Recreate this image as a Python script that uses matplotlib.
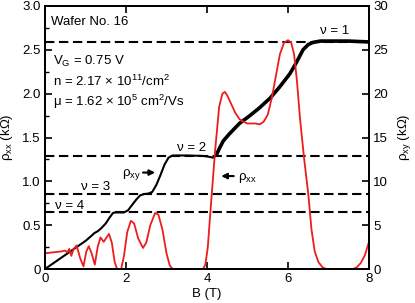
import matplotlib
matplotlib.use("Agg")
import matplotlib.pyplot as plt
import numpy as np

plt.rcParams['font.family'] = ['Liberation Sans', 'DejaVu Sans']
plt.rcParams['mathtext.fontset'] = 'custom'
plt.rcParams['mathtext.rm'] = 'Liberation Sans'
plt.rcParams['mathtext.it'] = 'Liberation Sans:italic'
plt.rcParams['mathtext.default'] = 'regular'
plt.rcParams['font.size'] = 9.5

# rho_xx (kOhm, left axis) vs B (T)
B_xx = [0.0, 0.2, 0.4, 0.5, 0.55, 0.6, 0.65, 0.7, 0.78, 0.87, 0.95, 1.02, 1.08, 1.15,
        1.23, 1.3, 1.37, 1.45, 1.52, 1.58, 1.65, 1.72, 1.78, 1.88, 1.95, 2.03, 2.12,
        2.2, 2.3, 2.42, 2.5, 2.6, 2.72, 2.8, 2.9, 3.0, 3.08, 3.15, 3.9, 3.96, 4.02,
        4.1, 4.2, 4.3, 4.38, 4.44, 4.5, 4.6, 4.7, 4.8, 4.9, 5.0, 5.2, 5.3, 5.4, 5.5,
        5.6, 5.7, 5.8, 5.9, 6.0, 6.08, 6.15, 6.22, 6.3, 6.4, 6.5, 6.58, 6.66, 6.75,
        6.85, 6.95, 7.6, 7.7, 7.8, 7.9, 8.0]
rho_xx = [0.18, 0.19, 0.20, 0.21, 0.19, 0.23, 0.15, 0.22, 0.27, 0.12, 0.03, 0.20, 0.26,
          0.18, 0.05, 0.25, 0.36, 0.31, 0.36, 0.40, 0.30, 0.08, 0.0, 0.0, 0.15, 0.42,
          0.55, 0.52, 0.35, 0.24, 0.30, 0.50, 0.64, 0.62, 0.45, 0.18, 0.04, 0.0, 0.0,
          0.05, 0.25, 0.75, 1.35, 1.85, 2.0, 2.02, 1.98, 1.88, 1.78, 1.71, 1.68, 1.66,
          1.66, 1.65, 1.68, 1.76, 1.95, 2.2, 2.45, 2.58, 2.61, 2.58, 2.45, 2.15, 1.7,
          1.25, 0.86, 0.45, 0.2, 0.08, 0.02, 0.0, 0.0, 0.02, 0.07, 0.16, 0.31]

# rho_xy (kOhm, right axis) vs B (T)
B_xy = [0.0, 0.5, 1.0, 1.15, 1.22, 1.3, 1.4, 1.5, 1.6, 1.68, 1.75, 1.95, 2.05, 2.15,
        2.25, 2.35, 2.45, 2.55, 2.65, 2.75, 2.85, 2.95, 3.05, 3.15, 3.5, 3.9, 4.05,
        4.15, 4.22, 4.3, 4.4, 4.55, 4.8, 5.06, 5.3, 5.56, 5.8, 6.05, 6.2, 6.37, 6.5,
        6.62, 6.8, 7.5, 8.0]
rho_xy = [0.0, 1.6, 3.2, 3.8, 4.1, 4.3, 4.7, 5.2, 5.9, 6.4, 6.45, 6.45, 6.7, 7.3,
          7.9, 8.4, 8.55, 8.6, 8.8, 9.6, 10.7, 11.9, 12.7, 12.95, 12.95, 12.9, 12.8,
          12.7, 12.9, 13.7, 14.6, 15.4, 16.6, 17.5, 18.4, 19.5, 20.8, 22.3, 23.5,
          25.0, 25.6, 25.85, 26.0, 26.0, 25.9]

# quantized plateau levels (kOhm, right axis)
nu_labels = ['ν = 1', 'ν = 2', 'ν = 3', 'ν = 4']
nu_levels = [25.9, 12.9, 8.6, 6.45]

W, H = 415, 303
fig = plt.figure(figsize=(W / 100, H / 100), dpi=100)
ax = fig.add_axes([45 / W, 1 - 269 / H, 324 / W, 263 / H])
ax2 = ax.twinx()

ax.set_xlim(0, 8)
ax.set_ylim(0, 3.0)
ax2.set_ylim(0, 30)

for lv in nu_levels:
    ax2.axhline(lv, color='black', lw=1.5, ls=(0, (4.5, 2.2)), zorder=1)

Bxy = np.array(B_xy)
rxy = np.array(rho_xy)
ax2.plot(Bxy, rxy, color='black', lw=1.5, zorder=3)
m = Bxy >= 4.2
ax2.plot(Bxy[m], rxy[m], color='black', lw=2.6, zorder=3, solid_capstyle='butt')
ax.plot(B_xx, rho_xx, color='#ee1c1c', lw=1.3, zorder=2)
ax.set_zorder(ax2.get_zorder() + 1)
ax.patch.set_visible(False)

ax.set_xticks([0, 2, 4, 6, 8])
ax.set_xticklabels(['0', '2', '4', '6', '8'])
ax.set_yticks([0, 0.5, 1.0, 1.5, 2.0, 2.5, 3.0])
ax.set_yticklabels(['0', '0.5', '1.0', '1.5', '2.0', '2.5', '3.0'])
ax.set_yticks(np.arange(0.25, 3.0, 0.5), minor=True)
ax2.set_yticks([0, 5, 10, 15, 20, 25, 30])
ax.tick_params(axis='both', which='major', direction='in', length=5, width=1.2,
               top=True, labelsize=9.5, pad=3)
ax.tick_params(axis='y', which='minor', direction='in', length=3, width=1.0)
ax.tick_params(axis='y', right=False)
ax2.tick_params(axis='y', direction='in', length=5, width=1.2, labelsize=9.5, pad=3)
for a in (ax, ax2):
    for s in a.spines.values():
        s.set_linewidth(1.4)

ax.set_xlabel('B (T)', fontsize=9.5, labelpad=2)
ax.set_ylabel('ρ$_{xx}$ (kΩ)', fontsize=9.5, labelpad=5)
ax2.set_ylabel('ρ$_{xy}$ (kΩ)', fontsize=9.5, labelpad=6)

ax.text(0.14, 2.82, 'Wafer No. 16', va='center', ha='left')
ax.text(0.2, 2.365, 'V$_G$ = 0.75 V', va='center', ha='left')
ax.text(0.2, 2.136, 'n = 2.17 × 10$^{11}$/cm$^{2}$', va='center', ha='left')
ax.text(0.2, 1.908, 'μ = 1.62 × 10$^{5}$ cm$^{2}$/Vs', va='center', ha='left')

nu_pos = [(6.79, 2.71), (3.25, 1.38), (0.9, 0.94), (0.25, 0.72)]
for lab, (x, y) in zip(nu_labels, nu_pos):
    ax.text(x, y, lab, va='center', ha='left', zorder=5)

ax.text(1.9, 1.08, 'ρ$_{xy}$', va='center', ha='left')
ax.annotate('', xy=(2.72, 1.1), xytext=(2.42, 1.1),
            arrowprops=dict(arrowstyle='-|>', lw=1.5, color='black', mutation_scale=8,
                            shrinkA=0, shrinkB=0))
ax.annotate('', xy=(4.35, 1.06), xytext=(4.66, 1.06),
            arrowprops=dict(arrowstyle='-|>', lw=1.5, color='black', mutation_scale=8,
                            shrinkA=0, shrinkB=0))
ax.text(4.77, 1.04, 'ρ$_{xx}$', va='center', ha='left')

fig.savefig('out.png', dpi=100)
